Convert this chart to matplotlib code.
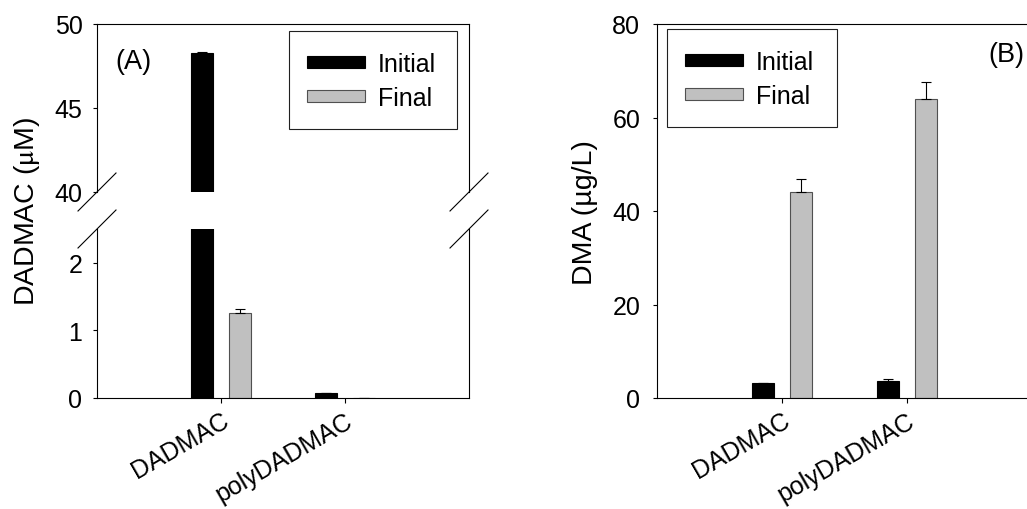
import numpy as np
import matplotlib
matplotlib.use('Agg')
import matplotlib.pyplot as plt
from matplotlib.patches import Rectangle

plt.rcParams['font.family'] = ['Liberation Sans', 'DejaVu Sans']
plt.rcParams['mathtext.fontset'] = 'stix'

# data
groups = ['DADMAC', 'polyDADMAC']
series = ['Initial', 'Final']
dadmac_initial = [48.3, 0.07]
dadmac_initial_err = [0.05, 0.01]
dadmac_final = [1.26, 0.0]
dadmac_final_err = [0.06, 0.0]
dma_initial = [3.2, 3.6]
dma_initial_err = [0.0, 0.4]
dma_final = [44.1, 64.0]
dma_final_err = [2.7, 3.6]

FS = 18
W, H = 1027, 510
x = np.arange(1, len(groups) + 1)
bw = 0.177
off = 0.15
col_i = 'black'
col_f = '#c0c0c0'


def fr(px_l, px_t, px_r, px_b):
    # pixel box -> figure fraction [left, bottom, width, height]
    return [px_l / W, 1 - px_b / H, (px_r - px_l) / W, (px_b - px_t) / H]


def draw_bars(ax, yi, ei, yf, ef):
    ax.bar(x - off, yi, bw, color=col_i, edgecolor='black', linewidth=0.8, label=series[0])
    ax.bar(x + off, yf, bw, color=col_f, edgecolor='#505050', linewidth=0.8, label=series[1])
    ax.errorbar(x - off, yi, yerr=[np.zeros(len(yi)), ei], fmt='none', ecolor='black',
                elinewidth=0.8, capsize=3.6, capthick=0.8)
    ax.errorbar(x + off, yf, yerr=[np.zeros(len(yf)), ef], fmt='none', ecolor='black',
                elinewidth=0.8, capsize=3.6, capthick=0.8)


def style(ax):
    for s in ax.spines.values():
        s.set_linewidth(0.8)
    ax.tick_params(axis='y', direction='out', length=3, width=0.8, pad=7.5,
                   labelsize=FS, right=False)
    ax.tick_params(axis='x', direction='out', length=3.6, width=0.8, labelsize=FS, top=False)


def legend_box(fig, ax, handles_px, box_px):
    h, l = ax.get_legend_handles_labels()
    fig.legend(h, l, loc='center left', frameon=False, fontsize=FS,
               bbox_to_anchor=(handles_px[0] / W, 1 - handles_px[1] / H),
               borderpad=0, borderaxespad=0, handlelength=2.3, handleheight=0.37,
               handletextpad=0.55, labelspacing=0.42)
    l_, t_, r_, b_ = box_px
    fig.patches.append(Rectangle((l_ / W, 1 - b_ / H), (r_ - l_) / W, (b_ - t_) / H,
                                 transform=fig.transFigure, fill=False,
                                 edgecolor='#202020', linewidth=0.8))


fig = plt.figure(figsize=(W / 100, H / 100), dpi=100)

# panel A: broken y axis
ax_top = fig.add_axes(fr(97, 25, 469, 193))
ax_bot = fig.add_axes(fr(97, 230, 469, 399))
for ax in (ax_top, ax_bot):
    draw_bars(ax, dadmac_initial, dadmac_initial_err, dadmac_final, dadmac_final_err)
    ax.set_xlim(0, 3)
    style(ax)
ax_top.set_ylim(40, 50)
ax_top.set_yticks([40, 45, 50])
ax_top.spines['bottom'].set_visible(False)
ax_top.set_xticks([])
ax_bot.set_ylim(0, 2.5)
ax_bot.set_yticks([0, 1, 2])
ax_bot.spines['top'].set_visible(False)
ax_bot.set_xticks(x)
ax_bot.set_xticklabels(groups, rotation=30, ha='right', rotation_mode='anchor')

# break marks
dx = 19 / 372
for xe in (0, 1):
    ax_top.plot([xe - dx, xe + dx], [-19 / 168, 19 / 168], transform=ax_top.transAxes,
                color='black', linewidth=0.8, clip_on=False)
    ax_bot.plot([xe - dx, xe + dx], [1 - 19 / 169, 1 + 19 / 169], transform=ax_bot.transAxes,
                color='black', linewidth=0.8, clip_on=False)

ax_top.text(0.097, 0.78, '(A)', transform=ax_top.transAxes, fontsize=19.5,
            ha='center', va='center')
fig.text(27 / W, 1 - 211 / H, 'DADMAC ($\\mathrm{\\mu}$M)', rotation=90, fontsize=20.5,
         ha='center', va='center')
legend_box(fig, ax_top, (307, 82), (289, 32, 457, 130))

# panel B
ax_b = fig.add_axes(fr(657, 25, 1032, 399))
draw_bars(ax_b, dma_initial, dma_initial_err, dma_final, dma_final_err)
ax_b.set_xlim(0, 3)
ax_b.set_ylim(0, 80)
ax_b.set_yticks([0, 20, 40, 60, 80])
style(ax_b)
ax_b.tick_params(axis='y', pad=9)
ax_b.set_xticks(x)
ax_b.set_xticklabels(groups, rotation=30, ha='right', rotation_mode='anchor')
ax_b.text(0.933, 0.92, '(B)', transform=ax_b.transAxes, fontsize=19.5,
          ha='center', va='center')
fig.text(585 / W, 1 - 213 / H, 'DMA (µg/L)', rotation=90, fontsize=20.5,
         ha='center', va='center')
legend_box(fig, ax_b, (685, 80), (667, 30, 837, 128))

fig.savefig('out.png', dpi=100)
